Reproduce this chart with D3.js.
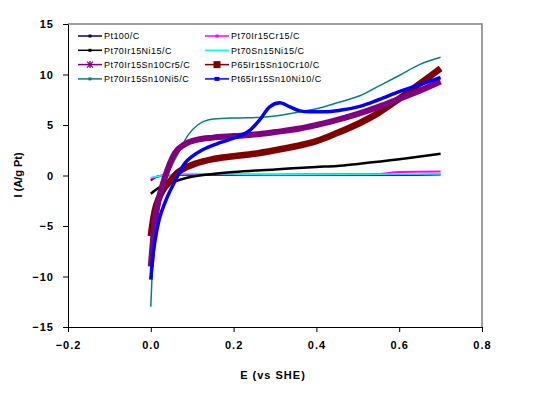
<!DOCTYPE html>
<html>
<head>
<meta charset="utf-8">
<script src="https://cdn.jsdelivr.net/npm/d3@7"></script>
<style>
  body { margin: 0; background: #fff; }
  text { font-family: "Liberation Sans", Arial, sans-serif; }
  .tick text { font-size: 11px; font-weight: bold; }
</style>
</head>
<body>
<div id="chart"></div>
<script>
// [E (V vs SHE), I (A/g Pt)]
const pt100 = [[0, -0.5], [0.01, -0.2], [0.03, 0], [0.06, 0.05], [0.2, 0.05], [0.4, 0.05], [0.6, 0.05], [0.7, 0.1]]
const ptIrCr = [[0, -0.3], [0.03, 0], [0.1, 0.1], [0.3, 0.1], [0.55, 0.15], [0.6, 0.35], [0.7, 0.4]]
const ptIrNi = [[0, -1.8], [0.02, -1.2], [0.05, -0.7], [0.09, -0.2], [0.15, 0.15], [0.2, 0.35],
  [0.3, 0.6], [0.4, 0.85], [0.45, 0.95], [0.5, 1.15], [0.6, 1.6], [0.7, 2.15]]
const ptSnNi = [[0, -0.2], [0.05, 0.1], [0.1, 0.2], [0.3, 0.1], [0.7, 0.15]]
const ptIrSnCr5 = [[0, -9], [0.005, -6.5], [0.01, -4.5], [0.02, -2.2], [0.034, -0.2], [0.058, 2.2], [0.082, 3.1],
  [0.113, 3.55], [0.15, 3.75], [0.2, 3.9], [0.25, 4.05], [0.3, 4.3], [0.36, 4.65], [0.4, 5.0], [0.45, 5.5],
  [0.5, 6.1], [0.55, 6.8], [0.6, 7.6], [0.65, 8.4], [0.7, 9.3]]
const p65IrSnCr10 = [[0, -6], [0.005, -4.5], [0.01, -3.4], [0.02, -2.2], [0.03, -1.4], [0.046, -0.6], [0.065, 0.3],
  [0.085, 0.8], [0.106, 1.15], [0.147, 1.6], [0.2, 1.9], [0.25, 2.15], [0.3, 2.5], [0.35, 2.9], [0.4, 3.4],
  [0.45, 4.2], [0.5, 5.1], [0.55, 6.2], [0.6, 7.6], [0.65, 9.1], [0.7, 10.6]]
const ptIrSnNi5 = [[0, -13], [0.003, -10], [0.008, -7], [0.015, -4.5], [0.025, -2.2], [0.034, -0.7], [0.05, 0.9],
  [0.065, 2.1], [0.09, 4.0], [0.113, 5.0], [0.138, 5.5], [0.17, 5.65], [0.215, 5.7], [0.26, 5.75], [0.31, 5.95],
  [0.36, 6.3], [0.41, 6.7], [0.45, 7.2], [0.505, 7.9], [0.553, 8.9], [0.6, 9.9], [0.65, 11.0], [0.7, 11.7]]
const pt65IrSnNi10 = [[0, -10.3], [0.005, -8], [0.01, -6.5], [0.02, -4.4], [0.035, -2.6], [0.058, -0.6],
  [0.082, 1.2], [0.1, 1.9], [0.123, 2.5], [0.171, 3.3], [0.2, 3.7], [0.22, 4.0], [0.24, 4.5], [0.263, 5.5],
  [0.287, 6.8], [0.312, 7.2], [0.336, 6.8], [0.36, 6.4], [0.384, 6.3], [0.42, 6.3], [0.457, 6.45],
  [0.505, 6.85], [0.55, 7.5], [0.6, 8.3], [0.65, 9.0], [0.7, 9.7]]

const seriesNames = ["Pt100/C", "Pt70Ir15Cr15/C", "Pt70Ir15Ni15/C", "Pt70Sn15Ni15/C",
  "Pt70Ir15Sn10Cr5/C", "P65Ir15Sn10Cr10/C", "Pt70Ir15Sn10Ni5/C", "Pt65Ir15Sn10Ni10/C"]
const seriesData = [pt100, ptIrCr, ptIrNi, ptSnNi, ptIrSnCr5, p65IrSnCr10, ptIrSnNi5, pt65IrSnNi10]
const seriesColors = ["#000080", "#ff00ff", "#000000", "#00ffff", "#800080", "#800000", "#008080", "#0000ff"]
const seriesWidths = [2, 2, 2.5, 1.5, 6, 6.5, 1.5, 3.5]
const seriesMarkers = ["dash", "dash", "dash", "none", "star", "square", "dash", "rect"]

const xTicks = [-0.2, 0, 0.2, 0.4, 0.6, 0.8]
const yTicks = [-15, -10, -5, 0, 5, 10, 15]

var dims = {
  width: 544, height: 393,
  plot: { left: 68, right: 482, top: 24, bottom: 327 },
  legend: { x: 78, y: 36, rowH: 14.3, colW: 127, lineW: 24 },
}

var svg = d3.select("#chart").append("svg")
  .attr("width", dims.width)
  .attr("height", dims.height)

var x = d3.scaleLinear().domain([-0.2, 0.8]).range([dims.plot.left, dims.plot.right])
var y = d3.scaleLinear().domain([-15, 15]).range([dims.plot.bottom, dims.plot.top])

svg.append("defs").append("clipPath").attr("id", "clip")
  .append("rect")
  .attr("x", dims.plot.left).attr("y", dims.plot.top)
  .attr("width", dims.plot.right - dims.plot.left)
  .attr("height", dims.plot.bottom - dims.plot.top)

// plot area frame (top and right in grey)
svg.append("path")
  .attr("d", `M${dims.plot.left},${dims.plot.top}H${dims.plot.right}V${dims.plot.bottom}`)
  .attr("fill", "none")
  .attr("stroke", "#808080")
  .attr("stroke-width", 1.5)

// curves
var line = d3.line()
  .x(d => x(d[0]))
  .y(d => y(d[1]))
  .curve(d3.curveMonotoneX)

var gCurves = svg.append("g").attr("clip-path", "url(#clip)")
var drawOrder = [6, 0, 1, 3, 2, 5, 4, 7]
drawOrder.forEach(i => {
  gCurves.append("path")
    .datum(seriesData[i])
    .attr("d", line)
    .attr("fill", "none")
    .attr("stroke", seriesColors[i])
    .attr("stroke-width", seriesWidths[i])
    .attr("stroke-linejoin", "round")
})

// axes
svg.append("g")
  .attr("transform", `translate(0,${dims.plot.bottom})`)
  .call(d3.axisBottom(x).tickValues(xTicks).tickFormat(d3.format(".1f")).tickSize(5).tickPadding(9).tickSizeOuter(0))
  .call(g => g.selectAll("path, line").attr("stroke", "#000"))
  .call(g => g.selectAll("text").attr("fill", "#000").attr("letter-spacing", "1px"))

svg.append("g")
  .attr("transform", `translate(${dims.plot.left},0)`)
  .call(d3.axisLeft(y).tickValues(yTicks).tickSize(5).tickPadding(9).tickSizeOuter(0))
  .call(g => g.selectAll("path, line").attr("stroke", "#000"))
  .call(g => g.selectAll("text").attr("fill", "#000").attr("letter-spacing", "1px"))

// axis titles
svg.append("text")
  .attr("x", 273).attr("y", 379)
  .attr("text-anchor", "middle")
  .attr("font-size", "11px")
  .attr("font-weight", "bold")
  .attr("letter-spacing", "1px")
  .text("E (vs SHE)")

svg.append("text")
  .attr("transform", "translate(22,175) rotate(-90)")
  .attr("text-anchor", "middle")
  .attr("font-size", "11px")
  .attr("font-weight", "bold")
  .text("I (A/g Pt)")

// legend, two columns
var gLegend = svg.append("g")
seriesNames.forEach((name, i) => {
  var col = i % 2, row = Math.floor(i / 2)
  var lx = dims.legend.x + col * dims.legend.colW
  var ly = dims.legend.y + row * dims.legend.rowH
  var mid = lx + dims.legend.lineW / 2
  var g = gLegend.append("g")
  g.append("line")
    .attr("x1", lx).attr("x2", lx + dims.legend.lineW)
    .attr("y1", ly).attr("y2", ly)
    .attr("stroke", seriesColors[i])
    .attr("stroke-width", 1.5)
  var m = seriesMarkers[i]
  if (m === "dash") {
    g.append("rect").attr("x", mid - 1.5).attr("y", ly - 1.5).attr("width", 3).attr("height", 3)
      .attr("fill", seriesColors[i])
  } else if (m === "rect") {
    g.append("rect").attr("x", mid - 2.5).attr("y", ly - 2).attr("width", 5).attr("height", 4)
      .attr("fill", seriesColors[i])
  } else if (m === "square") {
    g.append("rect").attr("x", mid - 3.5).attr("y", ly - 3.5).attr("width", 7).attr("height", 7)
      .attr("fill", seriesColors[i])
  } else if (m === "star") {
    g.append("path")
      .attr("d", `M${mid - 3},${ly - 3}L${mid + 3},${ly + 3}M${mid - 3},${ly + 3}L${mid + 3},${ly - 3}M${mid},${ly - 3.5}V${ly + 3.5}`)
      .attr("stroke", seriesColors[i])
      .attr("stroke-width", 1.3)
  }
  g.append("text")
    .attr("x", lx + dims.legend.lineW + 2)
    .attr("y", ly + 3.3)
    .attr("font-size", "9px")
    .attr("letter-spacing", "0.45px")
    .attr("fill", "#000")
    .text(name)
})
</script>
</body>
</html>
